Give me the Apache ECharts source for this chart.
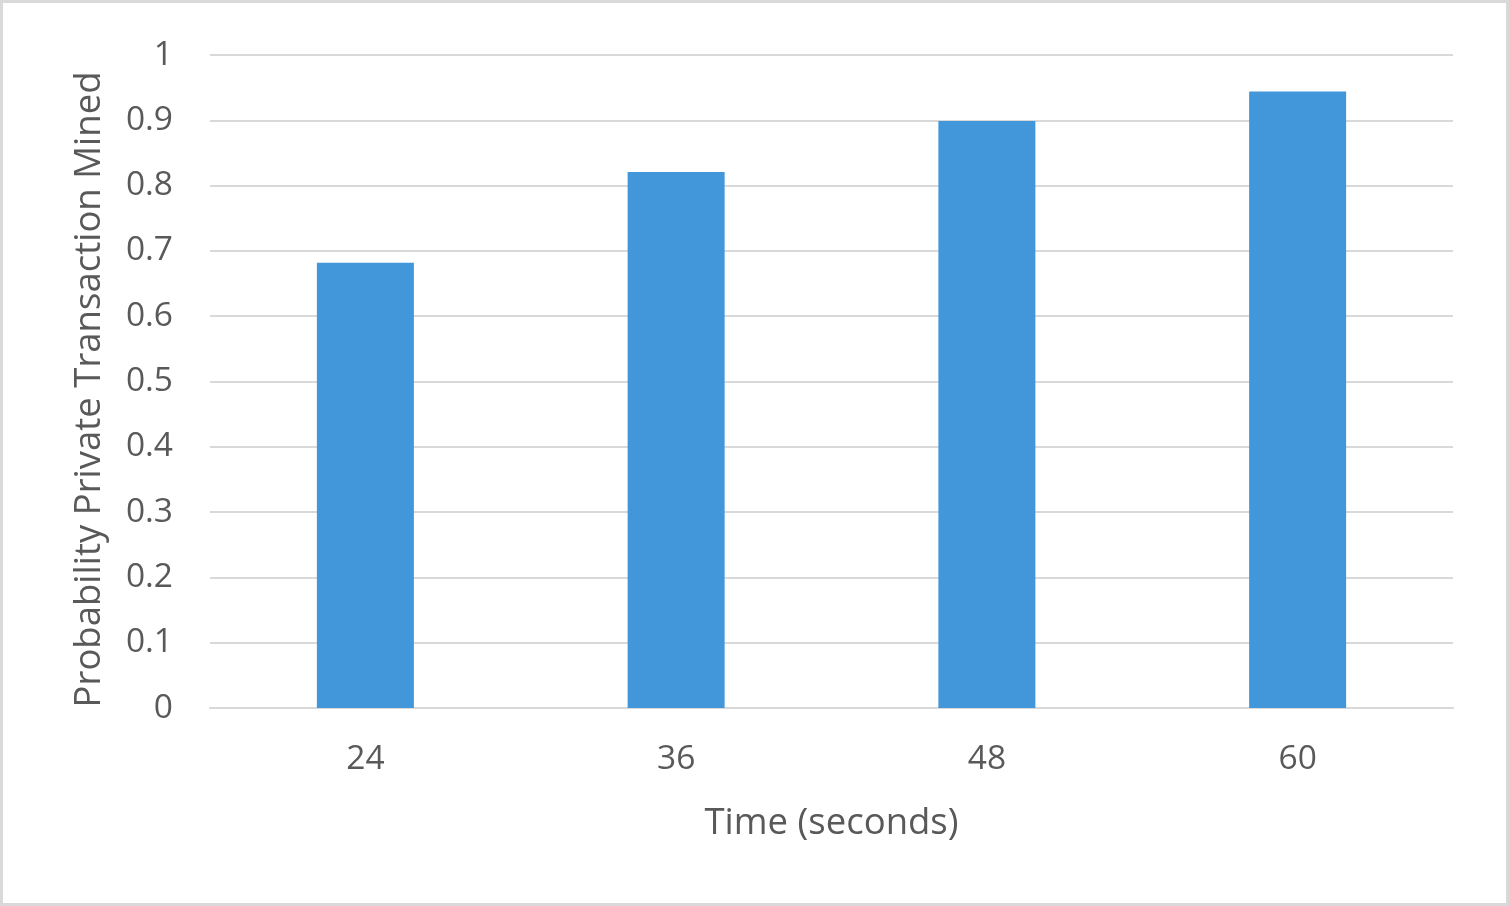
<!DOCTYPE html>
<html>
<head>
<meta charset="utf-8">
<script src="https://cdn.jsdelivr.net/npm/echarts@6/dist/echarts.min.js"></script>
<style>
html,body{margin:0;padding:0;background:#fff;}
#frame{position:absolute;left:0;top:0;width:1503px;height:900px;border:3px solid #d9d9d9;background:#fff;}
#chart{position:absolute;left:0;top:0;width:1509px;height:906px;}
</style>
</head>
<body>
<div id="frame"></div>
<div id="chart"></div>
<script>
const categories = ['24', '36', '48', '60'];
const probabilityMined = [0.682, 0.821, 0.899, 0.944];
const yTicks = { min: 0, max: 1, interval: 0.1 };
const xAxisTitle = 'Time (seconds)';
const yAxisTitle = 'Probability Private Transaction Mined';

const chart = echarts.init(document.getElementById('chart'), null, { renderer: 'canvas' });
const textColor = '#595959';
const fontFamily = '"Open Sans", "Liberation Sans", sans-serif';
chart.setOption({
  backgroundColor: 'transparent',
  animation: false,
  grid: { left: 210, right: 56, top: 55, bottom: 198, containLabel: false },
  xAxis: {
    type: 'category',
    data: categories,
    name: xAxisTitle,
    nameLocation: 'middle',
    nameGap: 97,
    nameTextStyle: { color: textColor, fontSize: 36.5, fontFamily: fontFamily },
    axisLine: { show: true, lineStyle: { color: '#d9d9d9', width: 2 } },
    axisTick: { show: false },
    axisLabel: { color: textColor, fontSize: 33.5, fontFamily: fontFamily, margin: 34 }
  },
  yAxis: {
    type: 'value',
    min: yTicks.min,
    max: yTicks.max,
    interval: yTicks.interval,
    name: yAxisTitle,
    nameLocation: 'middle',
    nameGap: 102,
    nameTextStyle: { color: textColor, fontSize: 36.5, fontFamily: fontFamily, padding: [0, 16, 0, 0] },
    axisLine: { show: false },
    axisTick: { show: false },
    splitLine: { lineStyle: { color: '#d9d9d9', width: 2 } },
    axisLabel: {
      color: textColor, fontSize: 33.5, fontFamily: fontFamily, margin: 37, padding: [4, 0, 0, 0],
      formatter: function (v) { return String(Math.round(v * 10) / 10); }
    }
  },
  series: [{
    type: 'bar',
    data: probabilityMined,
    barWidth: 97,
    itemStyle: { color: '#4297da' }
  }]
});
</script>
</body>
</html>
